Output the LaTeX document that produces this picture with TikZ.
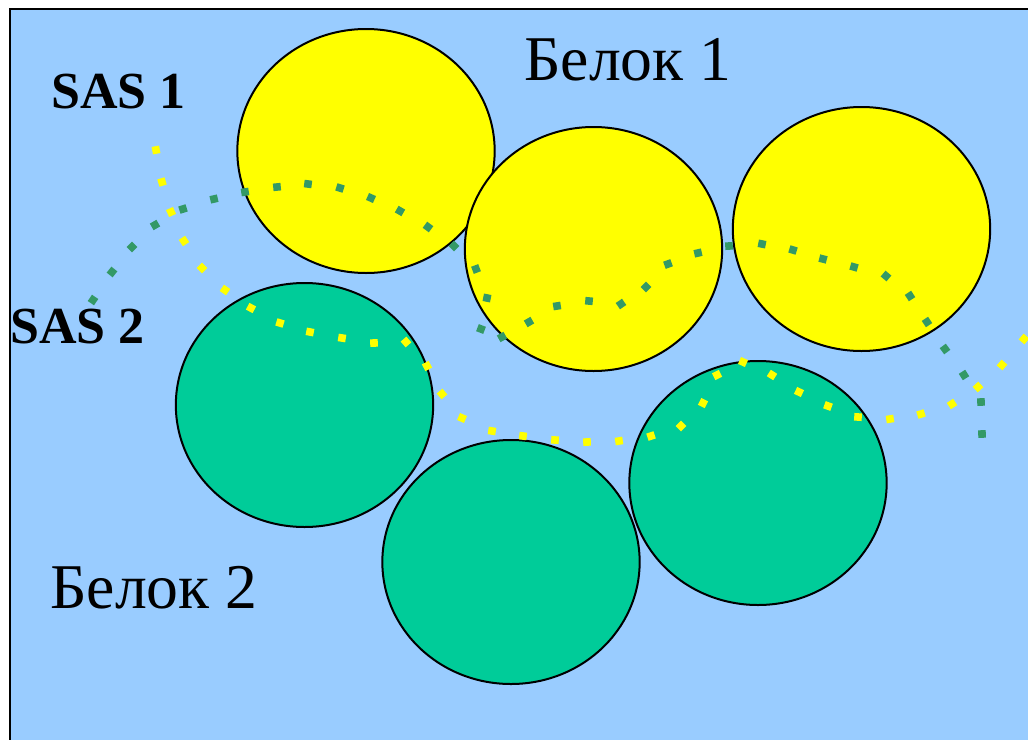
\documentclass[tikz,border=0pt]{standalone}
\usepackage{fontspec}
\setmainfont{Liberation Serif}
\usetikzlibrary{shapes.geometric,calc}
\begin{document}
\begin{tikzpicture}[x=0.75pt,y=-0.75pt,
  atom/.style={ellipse,draw=black,line width=1.5pt,minimum width=193pt,minimum height=183pt,inner sep=0pt},
  protein1/.style={atom,fill=pureyellow},
  protein2/.style={atom,fill=tealgreen},
  sasdot/.style={line width=5.7pt,line cap=butt},
  biglabel/.style={anchor=base west,inner sep=0pt,font=\fontsize{47.8}{50}\selectfont},
  saslabel/.style={anchor=base west,inner sep=0pt,font=\fontsize{39}{40}\selectfont\bfseries}]
\definecolor{skyblue}{HTML}{99CCFF}
\definecolor{tealgreen}{HTML}{00CC99}
\definecolor{darkdots}{HTML}{339966}
\definecolor{pureyellow}{HTML}{FFFF00}
\useasboundingbox (0,0) rectangle (1028,739);
\clip (0,0) rectangle (1028,739);
\fill[white] (0,0) rectangle (1028,739);
% backdrop panel
\draw[fill=skyblue,line width=1.5pt] (10,9) rectangle (1060,770);

% protein 1 atoms
\node[protein1] (y1) at (366,151) {};
\node[protein1] (y2) at (593.5,249) {};
\node[protein1] (y3) at (861.5,229) {};
% protein 2 atoms
\node[protein2] (g1) at (304.5,405) {};
\node[protein2] (g2) at (511,562) {};
\node[protein2] (g3) at (758,483) {};

% solvent accessible surface of protein 1: square dots, each turned along the path
\foreach \px/\py [remember=\px as \qx (initially 93), remember=\py as \qy (initially 300)] in
  {112/272, 132/247, 155/225, 183/209, 214/199, 245/192, 277/187, 308/184,
   340/188, 371/198, 400/211, 428/227, 454/246, 476/269, 487/298, 481/329,
   502/337, 529/322, 557/306, 589/301, 621/304, 646/287, 668/264, 698/253,
   729/246, 762/244, 793/250, 823/259, 854/267, 886/276, 910/296, 927/322,
   945/349, 964/375, 981/402, 982/434}
  {\draw[sasdot,draw=darkdots] ($(\qx,\qy)!-2.85pt!(\px,\py)$) -- ($(\qx,\qy)!2.85pt!(\px,\py)$);}
\draw[sasdot,draw=darkdots] ($(982,434)!-2.85pt!(981,402)$) -- ($(982,434)!2.85pt!(981,402)$);

% solvent accessible surface of protein 2
\foreach \px/\py [remember=\px as \qx (initially 156), remember=\py as \qy (initially 150)] in
  {162/182, 171/212, 184/241, 202/268, 225/290, 251/308, 280/323, 310/332,
   342/338, 374/343, 406/342, 427/366, 442/394, 462/418, 492/431, 523/436,
   555/440, 587/442, 619/441, 651/436, 681/426, 703/403, 717/375, 743/362,
   772/375, 799/392, 828/406, 858/417, 890/419, 921/414, 952/404, 978/387,
   1002/365, 1024/339}
  {\draw[sasdot,draw=pureyellow] ($(\qx,\qy)!-2.85pt!(\px,\py)$) -- ($(\qx,\qy)!2.85pt!(\px,\py)$);}
\draw[sasdot,draw=pureyellow] ($(1024,339)!-2.85pt!(1002,365)$) -- ($(1024,339)!2.85pt!(1002,365)$);

% labels
\node[biglabel] (t1) at (524,80) {Белок 1};
\node[biglabel] (t2) at (50,608) {Белок 2};
\node[saslabel] (s1) at (51,108) {SAS 1};
\node[saslabel] (s2) at (10,343) {SAS 2};
\end{tikzpicture}
\end{document}
